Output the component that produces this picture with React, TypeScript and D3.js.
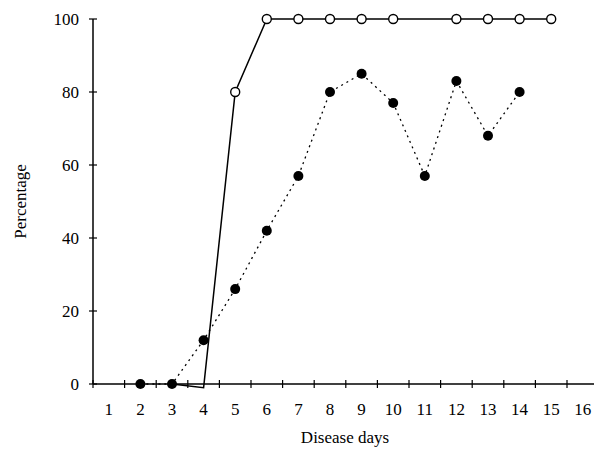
import { useEffect, useRef } from 'react';
import * as d3 from 'd3';

const days = d3.range(1, 17);
const yTicks = [0, 20, 40, 60, 80, 100];

// open circles, solid line
const openDays = [3, 4, 5, 6, 7, 8, 9, 10, 12, 13, 14, 15];
const openVals = [0, -1, 80, 100, 100, 100, 100, 100, 100, 100, 100, 100];
const openMarked = [false, false, true, true, true, true, true, true, true, true, true, true];

// filled circles, dotted line
const fillDays = [2, 3, 4, 5, 6, 7, 8, 9, 10, 11, 12, 13, 14];
const fillVals = [0, 0, 12, 26, 42, 57, 80, 85, 77, 57, 83, 68, 80];

export default function App() {
  const ref = useRef<SVGSVGElement>(null);

  useEffect(() => {
    const svg = d3.select(ref.current);
    svg.selectAll('*').remove();
    const font = "'Liberation Serif', 'DejaVu Serif', serif";

    const x0 = 93, step = 31.6;
    const x = (d: number) => x0 + (d - 0.5) * step;
    const y = d3.scaleLinear().domain([0, 100]).range([384, 19]);

    const g = svg.append('g');

    // axes
    g.append('line').attr('x1', x0).attr('x2', x0).attr('y1', y(0)).attr('y2', y(100))
      .attr('stroke', '#000').attr('stroke-width', 1.5);
    g.append('line').attr('x1', x0).attr('x2', x0 + 16 * step).attr('y1', y(0)).attr('y2', y(0))
      .attr('stroke', '#000').attr('stroke-width', 1.5);

    yTicks.forEach(t => {
      g.append('line').attr('x1', x0 - 4).attr('x2', x0 + 4).attr('y1', y(t)).attr('y2', y(t))
        .attr('stroke', '#000').attr('stroke-width', 1.2);
      g.append('text').attr('x', x0 - 14).attr('y', y(t)).attr('text-anchor', 'end')
        .attr('dominant-baseline', 'central').style('font-family', font).attr('font-size', 17).text(t);
    });

    d3.range(0, 17).forEach(k => {
      g.append('line').attr('x1', x0 + k * step).attr('x2', x0 + k * step)
        .attr('y1', y(0) - 4).attr('y2', y(0) + 4).attr('stroke', '#000').attr('stroke-width', 1.2);
    });
    days.forEach(d => {
      g.append('text').attr('x', x(d)).attr('y', 415).attr('text-anchor', 'middle')
        .style('font-family', font).attr('font-size', 17).text(d);
    });

    g.append('text').attr('x', 345).attr('y', 443).attr('text-anchor', 'middle')
      .style('font-family', font).attr('font-size', 17).text('Disease days');
    g.append('text').attr('transform', `translate(26,${y(50)}) rotate(-90)`).attr('text-anchor', 'middle')
      .style('font-family', font).attr('font-size', 17).text('Percentage');

    const line = d3.line<[number, number]>().x(p => x(p[0])).y(p => y(p[1]));

    g.append('path').attr('d', line(fillDays.map((d, i) => [d, fillVals[i]]))!)
      .attr('fill', 'none').attr('stroke', '#000').attr('stroke-width', 1.3)
      .attr('stroke-dasharray', '2,4');
    g.append('path').attr('d', line(openDays.map((d, i) => [d, openVals[i]]))!)
      .attr('fill', 'none').attr('stroke', '#000').attr('stroke-width', 1.5);

    fillDays.forEach((d, i) => {
      g.append('circle').attr('cx', x(d)).attr('cy', y(fillVals[i])).attr('r', 5).attr('fill', '#000');
    });
    openDays.forEach((d, i) => {
      if (!openMarked[i]) return;
      g.append('circle').attr('cx', x(d)).attr('cy', y(openVals[i])).attr('r', 4.5)
        .attr('fill', '#fff').attr('stroke', '#000').attr('stroke-width', 1.4);
    });
  }, []);

  return <svg ref={ref} width={594} height={450} style={{ position: 'absolute', left: 0, top: 0, background: '#fff' }} />;
}
